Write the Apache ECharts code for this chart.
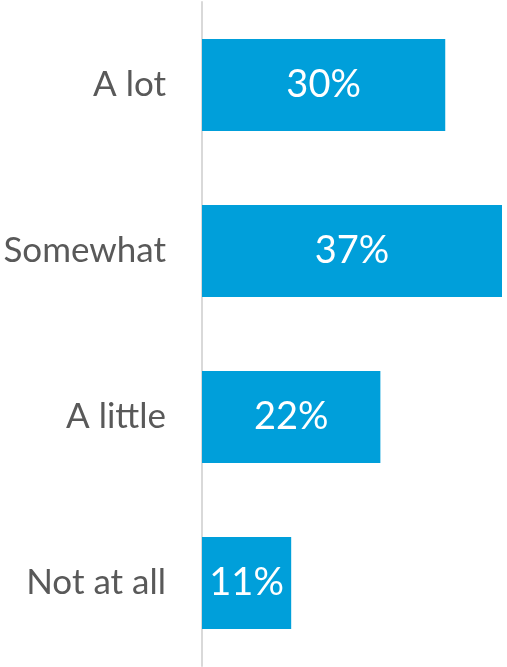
<!DOCTYPE html>
<html>
<head>
<meta charset="utf-8">
<script src="https://cdn.jsdelivr.net/npm/echarts@6/dist/echarts.min.js"></script>
<style>html,body{margin:0;padding:0;background:#fff}#c{width:507px;height:667px}</style>
</head>
<body>
<div id="c"></div>
<script>
var categories = ["A lot", "Somewhat", "A little", "Not at all"];
var values = [30, 37, 22, 11];

var chart = echarts.init(document.getElementById('c'), null, {renderer: 'canvas'});
chart.setOption({
  animation: false,
  grid: {left: 202, right: 5, top: 2, bottom: 1, containLabel: false},
  xAxis: {type: 'value', min: 0, max: 37, show: false},
  yAxis: {
    type: 'category', data: categories, inverse: true,
    axisLine: {show: true, lineStyle: {color: '#d9d9d9', width: 2}},
    axisTick: {show: false},
    axisLabel: {color: '#595959', fontSize: 35, fontFamily: 'Lato', margin: 36}
  },
  series: [{
    type: 'bar', data: values, barWidth: 92,
    itemStyle: {color: '#009fda'},
    label: {show: true, position: 'inside', color: '#fff', fontSize: 38, fontFamily: 'Lato', formatter: '{c}%'}
  }]
});
</script>
</body>
</html>
